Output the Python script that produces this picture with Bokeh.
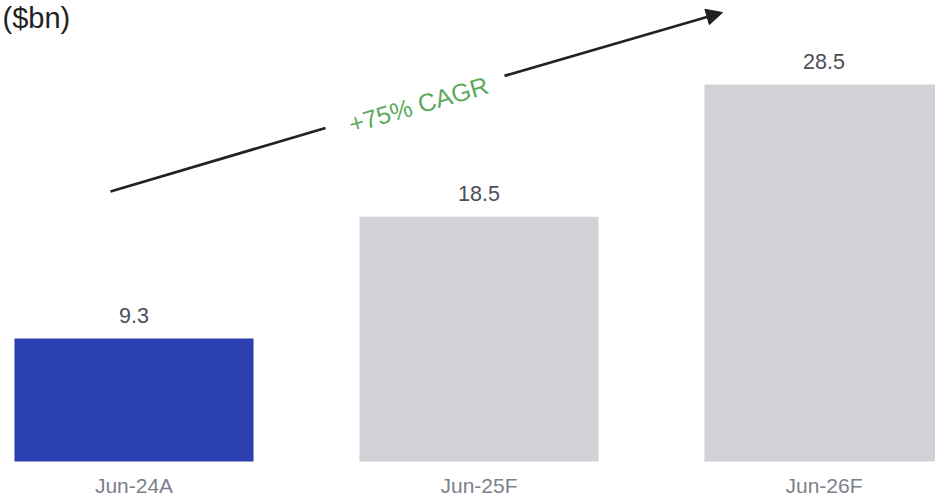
from bokeh.plotting import figure
from bokeh.models import ColumnDataSource, LabelSet, Label, Arrow, NormalHead, Range1d
from bokeh.core.properties import value
from bokeh.embed import file_html
from bokeh.resources import INLINE
import math

categories = ["Jun-24A", "Jun-25F", "Jun-26F"]
values = [9.3, 18.5, 28.5]
value_labels = ["9.3", "18.5", "28.5"]
colors = ["#2B40B0", "#D1D2D8", "#D1D2D8"]
unit_label = "($bn)"
cagr_label = "+75% CAGR"

W, H = 935, 499
x0 = -133.5 / 345
x1 = x0 + W / 345
ppu = 13.23
y0 = -38 / ppu
y1 = y0 + H / ppu

p = figure(width=W, height=H, output_backend="svg", toolbar_location=None,
           x_range=Range1d(x0, x1), y_range=Range1d(y0, y1), min_border=0)
p.axis.visible = False
p.grid.visible = False
p.outline_line_color = None
p.background_fill_color = "white"

idx = list(range(len(categories)))
src = ColumnDataSource(dict(x=idx, top=values, cat=categories, lab=value_labels, color=colors,
                            zero=[0] * len(values)))
p.vbar(x="x", top="top", bottom=0, width=0.693, fill_color="color", line_color=None, source=src)

p.add_layout(LabelSet(x="x", y="top", text="lab", source=src, text_align="center",
                      text_baseline="middle", y_offset=23, text_font=value("Liberation Sans"),
                      text_font_size=value("21.5px"), text_color=value("#4B4E59")))
p.add_layout(LabelSet(x="x", y="zero", text="cat", source=src, text_align="center",
                      text_baseline="middle", y_offset=-24, text_font=value("Liberation Sans"),
                      text_font_size=value("21px"), text_color=value("#7D808C")))

def px(xp, yp):
    # pixel position in the canvas -> data coords
    return x0 + xp / (W / (x1 - x0)), y0 + (H - yp) / ppu

sx, sy = px(110, 191)
gx1, gy1 = px(325, 127.5)
gx2, gy2 = px(504, 75.4)
tx, ty = px(722, 12)

p.segment(x0=[sx], y0=[sy], x1=[gx1], y1=[gy1], line_color="#222222", line_width=2.8)
p.add_layout(Arrow(x_start=gx2, y_start=gy2, x_end=tx, y_end=ty, line_color="#222222",
                   line_width=2.8,
                   end=NormalHead(size=16, fill_color="#222222", line_color="#222222")))

cx, cy = px(418, 104)
angle = math.atan2(178, 612)
p.add_layout(Label(x=cx, y=cy, text=cagr_label, angle=angle, text_align="center",
                   text_baseline="middle", text_font="Liberation Sans", text_font_size="25px",
                   text_color="#5BAA5B"))

p.add_layout(Label(x=2, y=H - 1, x_units="screen", y_units="screen", text=unit_label,
                   text_align="left", text_baseline="top", text_font="Liberation Sans",
                   text_font_size="29px", text_color="#222222"))

open("out.html", "w").write(file_html(p, INLINE))
